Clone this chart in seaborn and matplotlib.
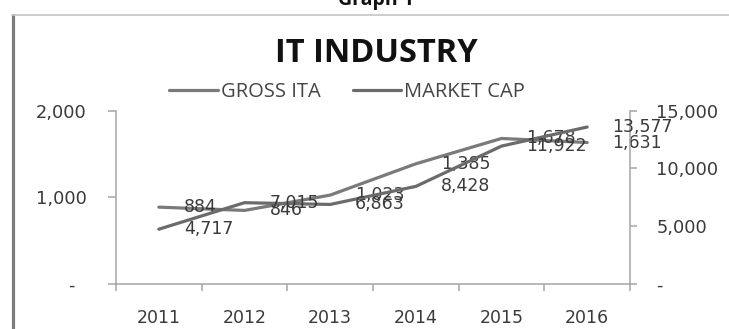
import numpy as np
import pandas as pd
import matplotlib
matplotlib.use("Agg")
import matplotlib.pyplot as plt
from matplotlib.lines import Line2D
from matplotlib.ticker import FuncFormatter
import seaborn as sns

# IT industry figures per year
years = ["2011", "2012", "2013", "2014", "2015", "2016"]
gross_ita = [884, 846, 1023, 1385, 1678, 1631]
market_cap = [4717, 7015, 6863, 8428, 11922, 13577]
left_ticks = [0, 1000, 2000]
right_ticks = [0, 5000, 10000, 15000]

df = pd.DataFrame({"year": years, "GROSS ITA": gross_ita, "MARKET CAP": market_cap})

sns.set_theme(style="white")
plt.rcParams["font.family"] = ["DejaVu Sans"]

W, H = 729, 329
fig = plt.figure(figsize=(W / 100, H / 100), dpi=100)
ax = fig.add_axes([116 / W, 1 - 283.6 / H, 514 / W, 173 / H])
ax2 = ax.twinx()

grey_spine = "#a6a6a6"
txt = "#3a3a3a"
c_gross = "#7a7a7a"
c_mcap = "#6b6b6b"

sns.lineplot(data=df, x="year", y="GROSS ITA", ax=ax, color=c_gross,
             linewidth=2.3, sort=False, label="GROSS ITA", legend=False)
sns.lineplot(data=df, x="year", y="MARKET CAP", ax=ax2, color=c_mcap,
             linewidth=2.3, sort=False, label="MARKET CAP", legend=False)

ax.set_xlim(-0.5, len(years) - 0.5)
ax.set_ylim(0, 2000)
ax2.set_ylim(0, 15000)
ax.set_xlabel("")
ax.set_ylabel("")
ax2.set_ylabel("")

ax.set_yticks(left_ticks)
ax2.set_yticks(right_ticks)
ax.yaxis.set_major_formatter(FuncFormatter(lambda v, p: "-  " if v == 0 else f"{v:,.0f}"))
ax2.yaxis.set_major_formatter(FuncFormatter(lambda v, p: "-" if v == 0 else f"{v:,.0f}"))

ax.set_xticks(range(len(years)))
ax.set_xticklabels(years)
ax.set_xticks(np.arange(-0.5, len(years), 1.0), minor=True)
ax.tick_params(axis="x", which="major", length=0, pad=18, labelsize=12.5, labelcolor=txt)
ax.tick_params(axis="x", which="minor", length=5, width=1.1, color=grey_spine, direction="out", bottom=True)
ax.tick_params(axis="y", length=6, width=1.1, color=grey_spine, direction="out", left=True,
               pad=15, labelsize=12.8, labelcolor=txt)
ax2.tick_params(axis="y", length=5, width=1.1, color=grey_spine, direction="out", right=True,
                pad=14, labelsize=12.8, labelcolor=txt)

for a in (ax, ax2):
    a.grid(False)
    a.spines["top"].set_visible(False)
    for s in ("left", "right", "bottom"):
        a.spines[s].set_color(grey_spine)
        a.spines[s].set_linewidth(1.1)
ax.spines["right"].set_visible(False)
ax2.spines["left"].set_visible(False)
ax2.spines["bottom"].set_visible(False)

# value labels to the right of each point
for i, (g, m) in enumerate(zip(gross_ita, market_cap)):
    ax.annotate(f"{g:,}", xy=(i, g), xytext=(18, 0), textcoords="offset points",
                ha="left", va="center", fontsize=12.5, color=txt)
    ax2.annotate(f"{m:,}", xy=(i, m), xytext=(18, 0), textcoords="offset points",
                 ha="left", va="center", fontsize=12.5, color=txt)

handles = ax.get_lines()[:1] + ax2.get_lines()[:1]
leg = ax.legend(handles=handles, labels=["GROSS ITA", "MARKET CAP"], loc="center",
                bbox_to_anchor=(347 / W, 1 - 92 / H), bbox_transform=fig.transFigure,
                ncol=2, frameon=False, handlelength=2.4, handletextpad=0.15,
                columnspacing=1.6, prop={"family": "Open Sans", "size": 14.5})
for t in leg.get_texts():
    t.set_color("#444444")

fig.text(376 / W, 1 - 62 / H, "IT INDUSTRY", ha="center", va="baseline",
         fontsize=23.5, fontweight="bold", family="Open Sans", color="#111111")
fig.text(376 / W, 1 - 5 / H, "Graph 1", ha="center", va="baseline",
         fontsize=14, fontweight="bold", family="Open Sans", color="#111111")

# chart frame
fig.add_artist(Line2D([12.5 / W, 12.5 / W], [0, 1 - 15 / H], transform=fig.transFigure,
                      color="#7d7d7d", linewidth=2.3))
fig.add_artist(Line2D([12 / W, 1], [1 - 15 / H, 1 - 15 / H], transform=fig.transFigure,
                      color="#c4c4c4", linewidth=1.2))

fig.savefig("out.png", dpi=100)
